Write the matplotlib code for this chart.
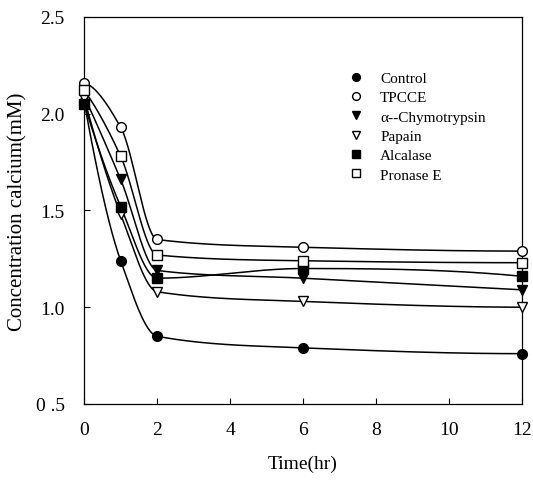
import numpy as np
import matplotlib
matplotlib.use("Agg")
import matplotlib.pyplot as plt

time_hr = [0, 1, 2, 6, 12]
control = [2.06, 1.24, 0.85, 0.79, 0.76]
tpcce = [2.16, 1.93, 1.35, 1.31, 1.29]
chymotrypsin = [2.09, 1.66, 1.19, 1.15, 1.09]
papain = [2.08, 1.48, 1.08, 1.03, 1.00]
alcalase = [2.05, 1.52, 1.15, 1.20, 1.16]
pronase = [2.12, 1.78, 1.27, 1.24, 1.23]

series_names = ["Control", "TPCCE", "\u03b1--Chymotrypsin", "Papain", "Alcalase", "Pronase E"]
series_values = [control, tpcce, chymotrypsin, papain, alcalase, pronase]
markers = ["o", "o", "v", "v", "s", "s"]
fills = ["black", "white", "black", "white", "black", "white"]

x_ticks = [0, 2, 4, 6, 8, 10, 12]
y_ticks = [0.5, 1.0, 1.5, 2.0, 2.5]
y_tick_labels = ["0 .5", "1.0", "1.5", "2.0", "2.5"]


def pchip(x, y, xs):
    x = np.asarray(x, float); y = np.asarray(y, float)
    h = np.diff(x); d = np.diff(y) / h
    n = len(x); m = np.zeros(n)
    for k in range(1, n - 1):
        if d[k - 1] * d[k] <= 0:
            m[k] = 0
        else:
            w1 = 2 * h[k] + h[k - 1]; w2 = h[k] + 2 * h[k - 1]
            m[k] = (w1 + w2) / (w1 / d[k - 1] + w2 / d[k])
    def end(h0, h1, d0, d1):
        mm = ((2 * h0 + h1) * d0 - h0 * d1) / (h0 + h1)
        if np.sign(mm) != np.sign(d0):
            mm = 0
        elif np.sign(d0) != np.sign(d1) and abs(mm) > abs(3 * d0):
            mm = 3 * d0
        return mm
    m[0] = end(h[0], h[1], d[0], d[1])
    m[-1] = end(h[-1], h[-2], d[-1], d[-2])
    ys = np.empty_like(xs)
    for i, xv in enumerate(xs):
        k = min(max(np.searchsorted(x, xv) - 1, 0), n - 2)
        t = (xv - x[k]) / h[k]
        h00 = 2 * t**3 - 3 * t**2 + 1; h10 = t**3 - 2 * t**2 + t
        h01 = -2 * t**3 + 3 * t**2; h11 = t**3 - t**2
        ys[i] = h00 * y[k] + h10 * h[k] * m[k] + h01 * y[k + 1] + h11 * h[k] * m[k + 1]
    return ys


plt.rcParams["font.family"] = ["Liberation Serif", "DejaVu Serif"]
fig = plt.figure(figsize=(5.33, 4.85), dpi=100)
ax = fig.add_axes([0.158, 0.165, 0.821, 0.798])

xs = np.linspace(0, 12, 600)
for name, vals, mk, fc in zip(series_names, series_values, markers, fills):
    ax.plot(xs, pchip(time_hr, vals, xs), color="black", lw=1.1)
    ax.plot(time_hr, vals, linestyle="none", marker=mk, markersize=7,
            markerfacecolor=fc, markeredgecolor="black", markeredgewidth=1.0,
            clip_on=False, zorder=5, label=name)

ax.set_xlim(0, 12)
ax.set_ylim(0.5, 2.5)
ax.set_xticks(x_ticks)
ax.set_yticks(y_ticks)
ax.set_yticklabels(y_tick_labels)
ax.tick_params(direction="in", length=4, width=0.8, labelsize=14)
ax.tick_params(axis="x", pad=12)
ax.tick_params(axis="y", pad=14)
for s in ax.spines.values():
    s.set_linewidth(0.9)

ax.set_xlabel("Time(hr)", fontsize=14, labelpad=12)
ax.set_ylabel("Concentration calcium(mM)", fontsize=15, labelpad=6)

leg = ax.legend(loc="upper left", bbox_to_anchor=(0.575, 0.895), frameon=False,
                fontsize=11, markerscale=0.8, handlelength=0.9, handletextpad=1.1,
                labelspacing=0.37)

fig.savefig("out.png", dpi=100)
